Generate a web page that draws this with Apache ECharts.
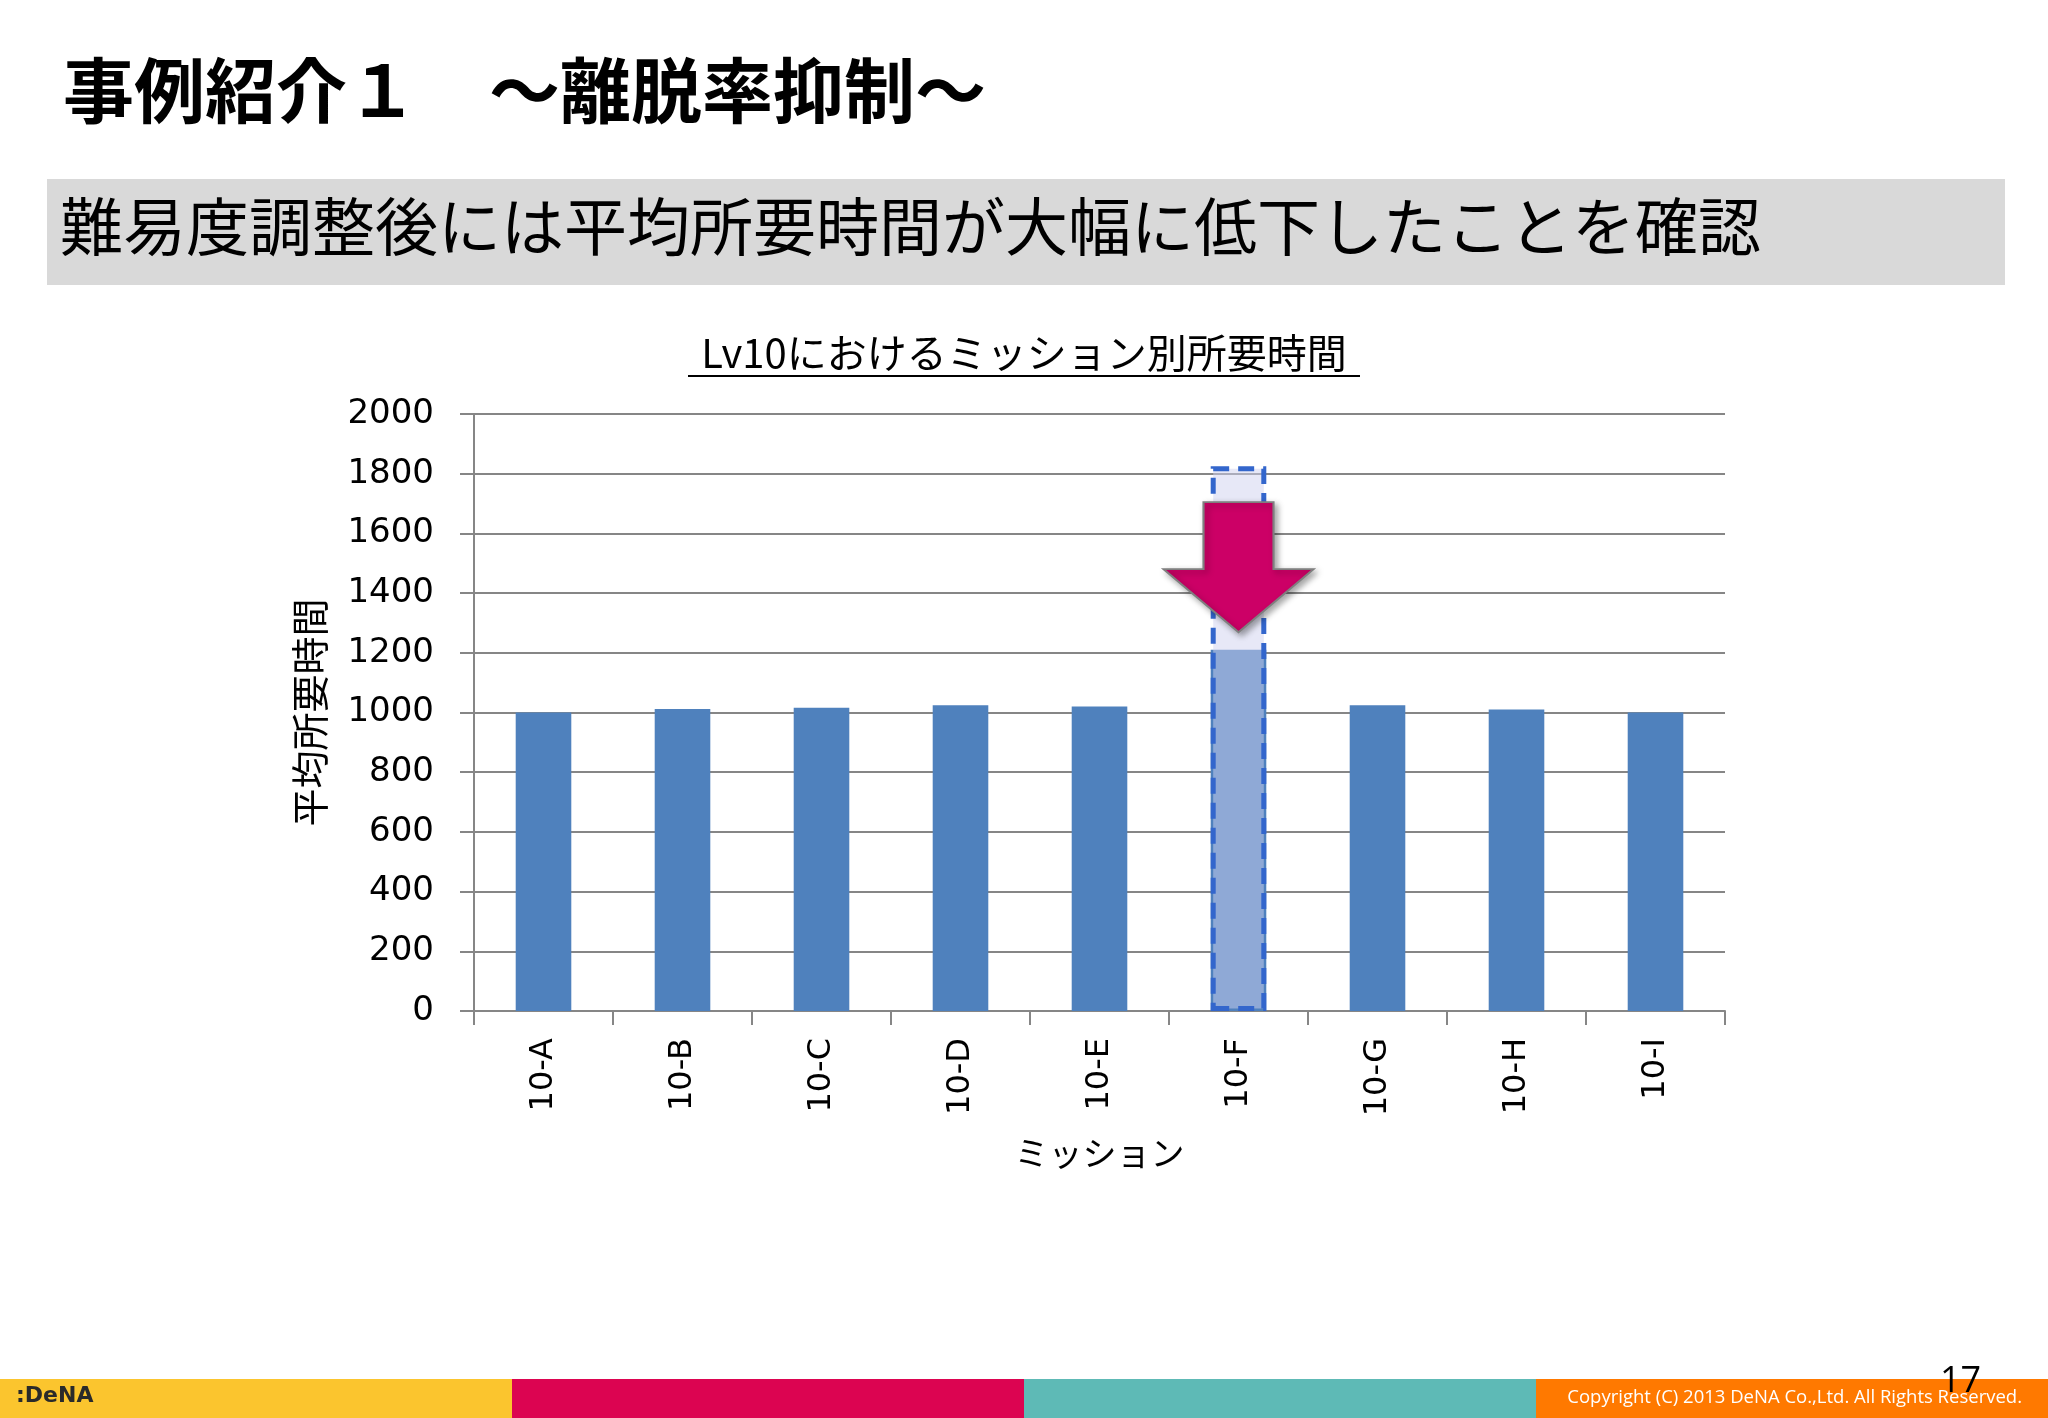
<!DOCTYPE html>
<html>
<head>
<meta charset="utf-8">
<script src="https://cdn.jsdelivr.net/npm/echarts@6/dist/echarts.min.js"></script>
<style>
html,body{margin:0;padding:0;background:#fff;}
#main{width:2048px;height:1418px;}
</style>
</head>
<body>
<div id="main"></div>
<script>
// ---- data ----
const categories = ['10-A','10-B','10-C','10-D','10-E','10-F','10-G','10-H','10-I'];
const afterValues = [1000, 1012, 1016, 1024, 1020, 1210, 1024, 1010, 1000];
const beforeValues = ['-', '-', '-', '-', '-', 1825, '-', '-', '-'];
const highlightCategory = '10-F';
const yTicks = { min: 0, max: 2000, interval: 200 };
const slideTitle = '事例紹介１　～離脱率抑制～';
const slideSubtitle = '難易度調整後には平均所要時間が大幅に低下したことを確認';
const chartTitle = 'Lv10におけるミッション別所要時間';
const yName = '平均所要時間';
const xName = 'ミッション';

const CJK = '"Noto Sans CJK JP", "Noto Sans", sans-serif';
const NUM = '"DejaVu Sans", Verdana, sans-serif';

const chart = echarts.init(document.getElementById('main'), null, {renderer: 'canvas'});

const option = {
  backgroundColor: '#ffffff',
  animation: false,
  grid: { left: 474, right: 323, top: 414, bottom: 407, containLabel: false },
  xAxis: {
    type: 'category',
    data: categories,
    name: xName,
    nameLocation: 'middle',
    nameGap: 125,
    nameTextStyle: { fontFamily: CJK, fontSize: 34, color: '#000' },
    axisLine: { lineStyle: { color: '#868686', width: 2 } },
    axisTick: { show: true, length: 14, lineStyle: { color: '#868686', width: 2 } },
    axisLabel: { rotate: 90, margin: 27, fontFamily: NUM, fontSize: 32, color: '#000' },
    splitLine: { show: false }
  },
  yAxis: {
    type: 'value',
    min: yTicks.min, max: yTicks.max, interval: yTicks.interval,
    name: yName,
    nameLocation: 'middle',
    nameRotate: 90,
    nameGap: 145,
    nameTextStyle: { fontFamily: CJK, fontSize: 38, color: '#000' },
    axisLine: { show: true, lineStyle: { color: '#868686', width: 2 } },
    axisTick: { show: true, inside: false, length: 14, lineStyle: { color: '#868686', width: 2 } },
    axisLabel: { margin: 40, fontFamily: NUM, fontSize: 34, color: '#000', formatter: v => String(v) },
    splitLine: { show: true, lineStyle: { color: '#868686', width: 2 } }
  },
  series: [
    {
      name: 'after',
      type: 'bar',
      data: afterValues,
      barWidth: '40%',
      barGap: '-100%',
      itemStyle: { color: '#4F81BD' },
      z: 2
    },
    {
      name: 'before',
      type: 'bar',
      data: beforeValues,
      barWidth: '40%',
      barGap: '-100%',
      itemStyle: {
        color: 'rgba(208,210,240,0.5)',
        borderColor: '#3366CC',
        borderWidth: 5,
        borderType: [16, 9]
      },
      z: 3,
      markPoint: {
        silent: true,
        z: 10,
        symbol: 'path://M40 0 L110 0 L110 67 L150 67 L75 130 L0 67 L40 67 Z',
        symbolSize: [150, 130],
        symbolKeepAspect: false,
        label: { show: false },
        itemStyle: {
          color: '#CC0066',
          borderColor: '#7F7F7F',
          borderWidth: 2,
          shadowColor: 'rgba(0,0,0,0.35)',
          shadowBlur: 6,
          shadowOffsetX: 3,
          shadowOffsetY: 3
        },
        data: [{ coord: [highlightCategory, 1487] }]
      }
    }
  ],
  graphic: [
    { type: 'text', left: 63, top: 55, style: { text: slideTitle, font: 'bold 71px ' + CJK, fill: '#000' } },
    { type: 'rect', shape: { x: 47, y: 179, width: 1958, height: 106 }, style: { fill: '#D9D9D9' }, z: -1 },
    { type: 'text', left: 60, top: 195, style: { text: slideSubtitle, font: '63px ' + CJK, fill: '#000' } },
    { type: 'text', left: 'center', top: 333, style: { text: chartTitle, font: '40px ' + CJK, fill: '#000' } },
    { type: 'line', shape: { x1: 688, y1: 376, x2: 1360, y2: 376 }, style: { stroke: '#000', lineWidth: 2 } },
    // footer bands
    { type: 'rect', shape: { x: 0, y: 1379, width: 512, height: 39 }, style: { fill: '#FBC52E' } },
    { type: 'rect', shape: { x: 512, y: 1379, width: 512, height: 39 }, style: { fill: '#DC0451' } },
    { type: 'rect', shape: { x: 1024, y: 1379, width: 512, height: 39 }, style: { fill: '#5EBAB6' } },
    { type: 'rect', shape: { x: 1536, y: 1379, width: 512, height: 39 }, style: { fill: '#FF7900' } },
    { type: 'text', left: 16, top: 1385, style: { text: ':DeNA', font: 'bold 22px ' + NUM, fill: '#2a2a2a' } },
    { type: 'text', right: 26, top: 1388, style: { text: 'Copyright (C) 2013 DeNA Co.,Ltd. All Rights Reserved.', font: '18.5px "Open Sans", sans-serif', fill: '#ffffff' } },
    { type: 'text', left: 1940, top: 1364, style: { text: '17', font: '36px "Open Sans", sans-serif', fill: '#000' }, z: 10 }
  ]
};

chart.setOption(option);
</script>
</body>
</html>
